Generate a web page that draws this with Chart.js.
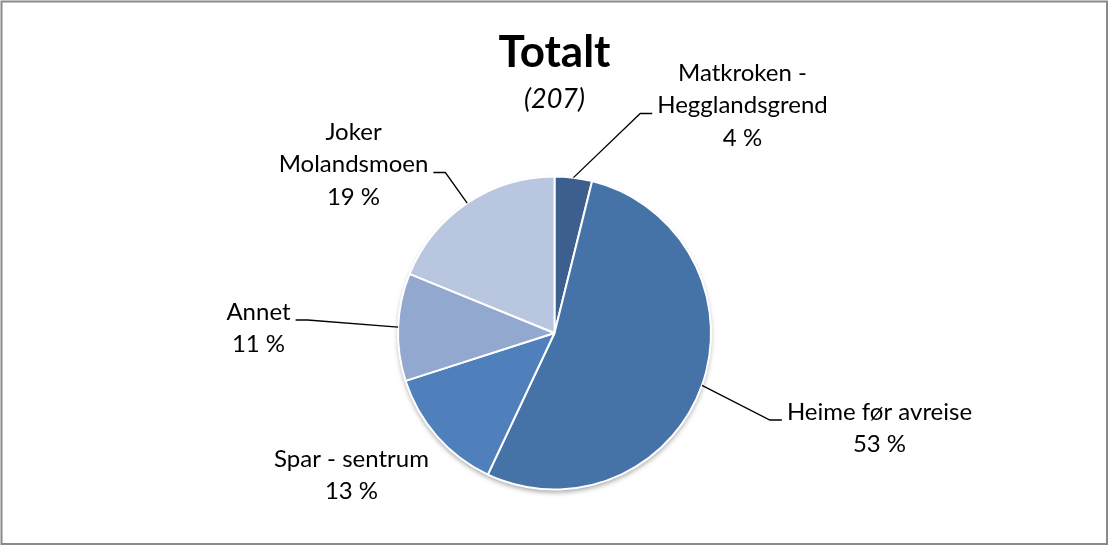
<!DOCTYPE html>
<html>
<head>
<meta charset="utf-8">
<script src="https://cdn.jsdelivr.net/npm/chart.js@4.4.1/dist/chart.umd.min.js"></script>
<style>
  html, body { margin: 0; padding: 0; background: #fff; }
  #wrap { width: 1109px; height: 546px; position: relative; }
</style>
</head>
<body>
<div id="wrap"><canvas id="piechart" width="1109" height="546"></canvas></div>
<script>
// data
var categories = ['Matkroken -\nHegglandsgrend', 'Heime før avreise', 'Spar - sentrum', 'Annet', 'Joker\nMolandsmoen'];
var counts = [8, 110, 27, 23, 39];
var colors = ['#3d5f8d', '#4573a7', '#4f80bc', '#93a8cf', '#b9c6e0'];
var titleText = 'Totalt';

// label layout (offset of label centre from pie centre, first text line), leader on/off
var labelPos = [
    {dx: 188, dy: -260, leader: true},
    {dx: 325, dy: 79, leader: true},
    {dx: -203, dy: 126, leader: false},
    {dx: -296, dy: -21, leader: true},
    {dx: -201, dy: -201, leader: true}
];

var total = counts.reduce(function(a, b){ return a + b; }, 0);
var labelFont = '24px Lato';
var lineH = 32.5;

var labelsPlugin = {
    id: 'excelLabels',
    beforeDatasetsDraw: function(chart){
        // soft shadow under the pie
        var arc = chart.getDatasetMeta(0).data[0];
        var ctx = chart.ctx;
        ctx.save();
        ctx.shadowColor = 'rgba(0,0,0,0.35)';
        ctx.shadowBlur = 5;
        ctx.shadowOffsetY = 3;
        ctx.fillStyle = '#ffffff';
        ctx.beginPath();
        ctx.arc(arc.x, arc.y, arc.outerRadius, 0, Math.PI * 2);
        ctx.fill();
        ctx.restore();
    },
    afterDraw: function(chart){
        var ctx = chart.ctx;
        var meta = chart.getDatasetMeta(0);
        ctx.save();

        // frame
        ctx.strokeStyle = '#898989';
        ctx.lineWidth = 2;
        ctx.strokeRect(1.5, 1.5, 1105.5, 542.5);

        var cx = meta.data[0].x, cy = meta.data[0].y;

        // title
        ctx.fillStyle = '#000';
        ctx.textAlign = 'center';
        ctx.textBaseline = 'middle';
        ctx.font = 'bold 44px Lato';
        ctx.fillText(titleText, cx, 53);
        ctx.font = 'italic 27px Lato';
        ctx.fillText('(' + total + ')', cx, 99);

        ctx.font = labelFont;
        meta.data.forEach(function(arc, i){
            var lines = categories[i].split('\n');
            lines.push(Math.round(counts[i] / total * 100) + ' %');
            var lx = cx + labelPos[i].dx;
            var ly = cy + labelPos[i].dy;
            var maxW = 0;
            lines.forEach(function(t, k){
                ctx.fillText(t, lx, ly + k * lineH);
                maxW = Math.max(maxW, ctx.measureText(t).width);
            });
            if (!labelPos[i].leader) return;

            var mid = (arc.startAngle + arc.endAngle) / 2;
            var px = arc.x + Math.cos(mid) * arc.outerRadius;
            var py = arc.y + Math.sin(mid) * arc.outerRadius;
            var attach = Math.floor((lines.length - 1) / 2);
            var ay = ly + attach * lineH + 8;
            var side = lx > cx ? -1 : 1;
            var ex = lx + side * (maxW / 2 + 5);
            var bx = ex + side * 12;
            ctx.strokeStyle = '#000';
            ctx.lineWidth = 1.3;
            ctx.beginPath();
            ctx.moveTo(px, py);
            ctx.lineTo(bx, ay);
            ctx.lineTo(ex, ay);
            ctx.stroke();
        });
        ctx.restore();
    }
};

var chart = new Chart(document.getElementById('piechart'), {
    type: 'pie',
    data: {
        labels: categories,
        datasets: [{
            data: counts,
            backgroundColor: colors,
            borderColor: '#ffffff',
            borderWidth: 2
        }]
    },
    options: {
        responsive: false,
        animation: false,
        layout: { padding: { top: 175, bottom: 55, left: 397, right: 397 } },
        plugins: {
            legend: { display: false },
            tooltip: { enabled: false },
            title: { display: false }
        }
    },
    plugins: [labelsPlugin]
});
</script>
</body>
</html>
